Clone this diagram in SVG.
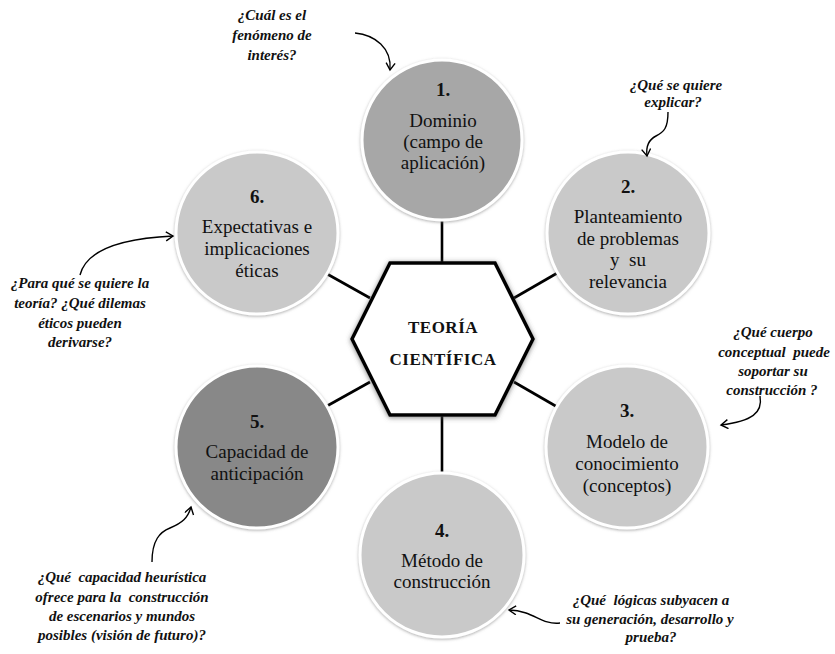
<svg xmlns="http://www.w3.org/2000/svg" width="835" height="654" viewBox="0 0 835 654">
<style>
.bg{fill:#ffffff}
.circ{stroke:#ffffff;stroke-width:3;filter:url(#sh)}
.c-light{fill:#c9c9c9}
.c-mid{fill:#a7a7a7}
.c-dark{fill:#888888}
.lbl{font-family:"Liberation Serif","Times New Roman",serif;font-size:19px;fill:#111;text-anchor:middle}
.num{font-weight:bold}
.hex{fill:#ffffff;stroke:#000;stroke-width:3.5;stroke-linejoin:miter;filter:url(#hsh)}
.hextxt{font-family:"Liberation Serif","Times New Roman",serif;font-size:17px;font-weight:bold;fill:#111;text-anchor:middle;letter-spacing:0.5px}
.conn{stroke:#000;stroke-width:2.6;fill:none}
.arr{stroke:#000;stroke-width:1.4;fill:none;marker-end:url(#ah)}
.q{font-family:"Liberation Serif","Times New Roman",serif;font-size:15px;font-weight:bold;font-style:italic;fill:#111;text-anchor:middle}
</style>
<defs>
<filter id="sh" x="-20%" y="-20%" width="140%" height="140%">
<feDropShadow dx="0" dy="1" stdDeviation="1.6" flood-color="#777" flood-opacity="0.6"/>
</filter>
<filter id="hsh" x="-20%" y="-20%" width="140%" height="140%">
<feDropShadow dx="0" dy="1" stdDeviation="2.5" flood-color="#555" flood-opacity="0.7"/>
</filter>
<marker id="ah" markerUnits="userSpaceOnUse" markerWidth="12" markerHeight="12" refX="8" refY="5" orient="auto">
<path d="M1,0.5 L8,5 L1,9.5" fill="none" stroke="#000" stroke-width="1.4"/>
</marker>
</defs>
<rect class="bg" x="0" y="0" width="835" height="654"/>

<g id="connectors">
<line class="conn" x1="442" y1="200" x2="442" y2="266"/>
<line class="conn" x1="442" y1="412" x2="442" y2="480"/>
<line class="conn" x1="370" y1="298" x2="320" y2="270"/>
<line class="conn" x1="514" y1="298" x2="566" y2="268"/>
<line class="conn" x1="370" y1="382" x2="318" y2="411"/>
<line class="conn" x1="514" y1="382" x2="566" y2="412"/>
</g>

<g id="node1">
<circle class="circ c-mid" cx="442" cy="140" r="80"/>
<text class="lbl num" x="443" y="96">1.</text>
<text class="lbl" x="443" y="127">Dominio</text>
<text class="lbl" x="443" y="148">(campo de</text>
<text class="lbl" x="443" y="169">aplicación)</text>
</g>

<g id="node2">
<circle class="circ c-light" cx="628" cy="233" r="81"/>
<text class="lbl num" x="628" y="193">2.</text>
<text class="lbl" x="628" y="223">Planteamiento</text>
<text class="lbl" x="628" y="245">de problemas</text>
<text class="lbl" x="628" y="266" xml:space="preserve">y  su</text>
<text class="lbl" x="628" y="288">relevancia</text>
</g>

<g id="node3">
<circle class="circ c-light" cx="627" cy="447" r="81"/>
<text class="lbl num" x="627" y="417">3.</text>
<text class="lbl" x="627" y="448">Modelo de</text>
<text class="lbl" x="627" y="470">conocimiento</text>
<text class="lbl" x="627" y="492">(conceptos)</text>
</g>

<g id="node4">
<circle class="circ c-light" cx="442" cy="555" r="82"/>
<text class="lbl num" x="442" y="537">4.</text>
<text class="lbl" x="442" y="567">Método de</text>
<text class="lbl" x="442" y="588">construcción</text>
</g>

<g id="node5">
<circle class="circ c-dark" cx="257" cy="447" r="81"/>
<text class="lbl num" x="257" y="428">5.</text>
<text class="lbl" x="257" y="458">Capacidad de</text>
<text class="lbl" x="257" y="480">anticipación</text>
</g>

<g id="node6">
<circle class="circ c-light" cx="257" cy="233" r="81"/>
<text class="lbl num" x="257" y="203">6.</text>
<text class="lbl" x="257" y="233">Expectativas e</text>
<text class="lbl" x="257" y="255">implicaciones</text>
<text class="lbl" x="257" y="277">éticas</text>
</g>

<g id="center">
<polygon class="hex" points="390,263 495,263 533,339 495,415 390,415 352,339"/>
<text class="hextxt" x="443" y="333">TEORÍA</text>
<text class="hextxt" x="443" y="365">CIENTÍFICA</text>
</g>

<g id="annotations">
<g id="q1">
<text class="q" x="272" y="20">¿Cuál es el</text>
<text class="q" x="272" y="40">fenómeno de</text>
<text class="q" x="272" y="60">interés?</text>
<path class="arr" d="M355,33 C375,35 392,48 390,70"/>
</g>
<g id="q2">
<text class="q" x="676" y="90">¿Qué se quiere</text>
<text class="q" x="673" y="107">explicar?</text>
<path class="arr" d="M668,112 C668,128 664,132 656,136 C648,140 646,148 647,156"/>
</g>
<g id="q3">
<text class="q" x="773" y="337">¿Qué cuerpo</text>
<text class="q" x="774" y="357" xml:space="preserve">conceptual  puede</text>
<text class="q" x="773" y="376">soportar su</text>
<text class="q" x="772" y="395">construcción ?</text>
<path class="arr" d="M760,396 C763,413 752,421 721,425"/>
</g>
<g id="q4">
<text class="q" x="651" y="605" xml:space="preserve">¿Qué  lógicas subyacen a</text>
<text class="q" x="650" y="624">su generación, desarrollo y</text>
<text class="q" x="651" y="642">prueba?</text>
<path class="arr" d="M560,623 C540,625 535,611 509,610"/>
</g>
<g id="q5">
<text class="q" x="122" y="582" xml:space="preserve">¿Qué  capacidad heurística</text>
<text class="q" x="122" y="602" xml:space="preserve">ofrece para la  construcción</text>
<text class="q" x="122" y="621">de escenarios y mundos</text>
<text class="q" x="122" y="640">posibles (visión de futuro)?</text>
<path class="arr" d="M152,562 C152,540 160,532 170,528 C182,523 188,518 191,507"/>
</g>
<g id="q6">
<text class="q" x="80" y="288">¿Para qué se quiere la</text>
<text class="q" x="80" y="308">teoría? ¿Qué dilemas</text>
<text class="q" x="80" y="328">éticos pueden</text>
<text class="q" x="80" y="347">derivarse?</text>
<path class="arr" d="M80,275 C85,255 110,239 173,236"/>
</g>
</g>
</svg>
